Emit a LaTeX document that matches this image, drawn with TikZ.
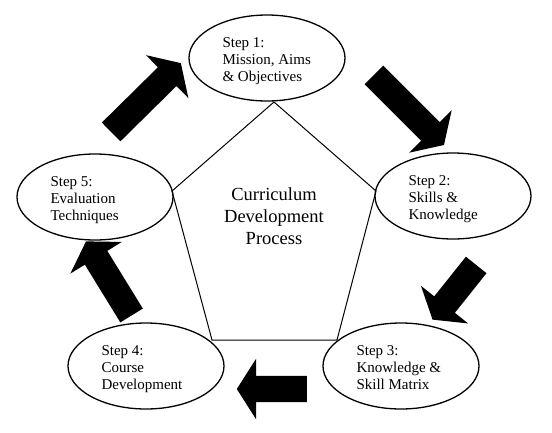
\documentclass[tikz,border=0pt]{standalone}
\usepackage{fontspec}
\setmainfont{Liberation Serif}
\usetikzlibrary{shapes.geometric,shapes.arrows,calc}
\begin{document}
\begin{tikzpicture}[x=1pt,y=-1pt,
  stepell/.style={ellipse, draw, line width=1.3pt, minimum width=156pt, minimum height=86pt, inner sep=0pt},
  steptext/.style={font=\fontsize{15}{17}\selectfont, align=left, inner sep=0pt, anchor=north west},
  titletext/.style={font=\fontsize{18.5}{22}\selectfont, align=center, inner sep=0pt, anchor=north},
  blockarrow/.style={single arrow, fill=black, draw=none, inner xsep=0pt, inner ysep=13pt, single arrow head extend=17pt, single arrow tip angle=115},
  pent/.style={draw, line width=1pt, line join=miter}]
\useasboundingbox (0,0) rectangle (552,432);

% pentagon
\draw[pent] (274,102) -- (376,191) -- (337,340) -- (212,340) -- (172,191) -- cycle;
\node[titletext] (title) at (274,187.5) {Curriculum\\Development\\Process};

% step ellipses
\node[stepell] (s1) at (267,58) {};
\node[stepell] (s2) at (453,196) {};
\node[stepell] (s3) at (401,366) {};
\node[stepell] (s4) at (146,366) {};
\node[stepell] (s5) at (95,197) {};

\node[steptext] (t1) at ($(s1.west)+(34,-20.7)$) {Step 1:\\Mission, Aims\\\& Objectives};
\node[steptext] (t2) at ($(s2.west)+(34,-20.7)$) {Step 2:\\Skills \&\\Knowledge};
\node[steptext] (t3) at ($(s3.west)+(34,-20.7)$) {Step 3:\\Knowledge \&\\Skill Matrix};
\node[steptext] (t4) at ($(s4.west)+(34,-20.7)$) {Step 4:\\Course\\Development};
\node[steptext] (t5) at ($(s5.west)+(34,-20.7)$) {Step 5:\\Evaluation\\Techniques};

% block arrows
\node[blockarrow, minimum height=98pt, rotate=44.6] (a51) at (143,100.5) {};
\node[blockarrow, minimum height=99pt, rotate=-45] (a12) at (406,107) {};
\node[blockarrow, minimum height=70pt, rotate=-128.6] (a23) at (457,289) {};
\node[blockarrow, minimum height=70pt, rotate=180] (a34) at (276,389) {};
\node[blockarrow, minimum height=87pt, rotate=121.6] (a45) at (111,282) {};
\end{tikzpicture}
\end{document}
